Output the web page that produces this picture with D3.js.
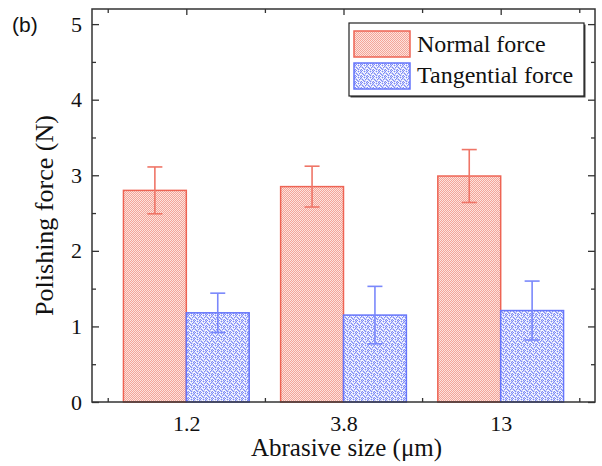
<!DOCTYPE html>
<html>
<head>
<meta charset="utf-8">
<script src="https://cdn.jsdelivr.net/npm/d3@7"></script>
<style>
  body { margin: 0; background: #fff; }
  svg { display: block; }
</style>
</head>
<body>
<script>
// chart data
const categories = ["1.2", "3.8", "13"];
const seriesNames = ["Normal force", "Tangential force"];
const normalForce = [2.80, 2.85, 2.99];
const normalErr = [0.31, 0.27, 0.35];
const tangentialForce = [1.18, 1.15, 1.21];
const tangentialErr = [0.26, 0.38, 0.39];
const yTicks = [0, 1, 2, 3, 4, 5];

let W = 602, H = 466;
let margin = { top: 9, right: 7, bottom: 64, left: 92 };
let width = W - margin.left - margin.right;
let height = H - margin.top - margin.bottom;
let serif = "'Liberation Serif', 'Times New Roman', serif";

let svg = d3.select("body").append("svg")
  .attr("width", W)
  .attr("height", H);

// fill patterns
let defs = svg.append("defs");
let pRed = defs.append("pattern").attr("id", "pRed")
  .attr("patternUnits", "userSpaceOnUse").attr("width", 2).attr("height", 2);
pRed.append("rect").attr("width", 2).attr("height", 2).attr("fill", "#fde2dd");
pRed.append("rect").attr("width", 1).attr("height", 1).attr("fill", "#f3a599");
pRed.append("rect").attr("x", 1).attr("y", 1).attr("width", 1).attr("height", 1).attr("fill", "#f3a599");

let pBlue = defs.append("pattern").attr("id", "pBlue")
  .attr("patternUnits", "userSpaceOnUse").attr("width", 6).attr("height", 6);
pBlue.append("rect").attr("width", 6).attr("height", 6).attr("fill", "#ccd1fb");
[[0,0],[3,0],[5,1],[1,2],[4,2],[2,3],[0,4],[3,4],[5,5],[1,5]].forEach(function (p) {
  pBlue.append("rect").attr("x", p[0]).attr("y", p[1]).attr("width", 1).attr("height", 1).attr("fill", "#7d8bf6");
});
[[1,0],[4,1],[2,1],[0,3],[5,3],[2,5],[4,5],[3,2],[1,4]].forEach(function (p) {
  pBlue.append("rect").attr("x", p[0]).attr("y", p[1]).attr("width", 1).attr("height", 1).attr("fill", "#ffffff");
});

let g = svg.append("g")
  .attr("transform", "translate(" + margin.left + "," + margin.top + ")");

let x = d3.scaleLinear().domain([0.4, 3.6]).range([0, width]);
let y = d3.scaleLinear().domain([0, 5.2]).range([height, 0]);
let bw = 0.4;

let series = [
  { vals: normalForce, err: normalErr, off: -bw, fill: "url(#pRed)", stroke: "#ee6454", errColor: "#ef7567" },
  { vals: tangentialForce, err: tangentialErr, off: 0, fill: "url(#pBlue)", stroke: "#6676fb", errColor: "#7a88fb" }
];

series.forEach(function (s) {
  g.selectAll(null).data(s.vals).enter().append("rect")
    .attr("x", function (d, i) { return x(i + 1 + s.off); })
    .attr("y", function (d) { return y(d); })
    .attr("width", x(bw) - x(0))
    .attr("height", function (d) { return y(0) - y(d); })
    .attr("fill", s.fill)
    .attr("stroke", s.stroke)
    .attr("stroke-width", 1.5);

  let eg = g.selectAll(null).data(s.vals).enter().append("g")
    .attr("stroke", s.errColor).attr("stroke-width", 1.6);
  eg.append("line")
    .attr("x1", function (d, i) { return x(i + 1 + s.off + bw / 2); })
    .attr("x2", function (d, i) { return x(i + 1 + s.off + bw / 2); })
    .attr("y1", function (d, i) { return y(d + s.err[i]); })
    .attr("y2", function (d, i) { return y(d - s.err[i]); });
  [1, -1].forEach(function (sign) {
    eg.append("line")
      .attr("x1", function (d, i) { return x(i + 1 + s.off + bw / 2) - 7.5; })
      .attr("x2", function (d, i) { return x(i + 1 + s.off + bw / 2) + 7.5; })
      .attr("y1", function (d, i) { return y(d + sign * s.err[i]); })
      .attr("y2", function (d, i) { return y(d + sign * s.err[i]); });
  });
});

// axes, ticks pointing inward
let axisColor = "#333";
let yMinor = d3.range(0.5, 5.2, 1);
let xMajor = [1, 2, 3];
let xMinor = [0.5, 1.5, 2.5, 3.5];

function styleAxis(sel) {
  sel.select(".domain").remove();
  sel.selectAll(".tick line").attr("stroke", axisColor).attr("stroke-width", 1.3);
  sel.selectAll("text").attr("font-size", 22).attr("font-family", serif).attr("fill", "#111");
}

g.append("g")
  .call(d3.axisLeft(y).tickValues(yTicks).tickSize(-7).tickPadding(10).tickFormat(d3.format("d")))
  .call(styleAxis);
g.append("g")
  .call(d3.axisLeft(y).tickValues(yMinor).tickSize(-4).tickFormat(""))
  .call(styleAxis);
g.append("g").attr("transform", "translate(" + width + ",0)")
  .call(d3.axisRight(y).tickValues(yTicks).tickSize(-7).tickFormat(""))
  .call(styleAxis);
g.append("g").attr("transform", "translate(" + width + ",0)")
  .call(d3.axisRight(y).tickValues(yMinor).tickSize(-4).tickFormat(""))
  .call(styleAxis);

g.append("g").attr("transform", "translate(0," + height + ")")
  .call(d3.axisBottom(x).tickValues(xMajor).tickSize(0).tickPadding(13)
    .tickFormat(function (d) { return categories[d - 1]; }))
  .call(styleAxis);
g.append("g").attr("transform", "translate(0," + height + ")")
  .call(d3.axisBottom(x).tickValues(xMinor).tickSize(-4).tickFormat(""))
  .call(styleAxis);
g.append("g")
  .call(d3.axisTop(x).tickValues(xMajor).tickSize(-6).tickFormat(""))
  .call(styleAxis);
g.append("g")
  .call(d3.axisTop(x).tickValues(xMinor).tickSize(-4).tickFormat(""))
  .call(styleAxis);

// frame
g.append("rect")
  .attr("width", width).attr("height", height)
  .attr("fill", "none").attr("stroke", axisColor).attr("stroke-width", 1.5);

// axis titles
g.append("text")
  .attr("x", width / 2 + 3).attr("y", height + 54)
  .attr("text-anchor", "middle").attr("font-size", 25)
  .attr("font-family", serif).attr("fill", "#111")
  .text("Abrasive size (μm)");
g.append("text")
  .attr("transform", "translate(-39," + (height / 2 + 10) + ") rotate(-90)")
  .attr("text-anchor", "middle").attr("font-size", 26)
  .attr("font-family", serif).attr("fill", "#111")
  .text("Polishing force (N)");

svg.append("text")
  .attr("x", 12).attr("y", 32)
  .attr("font-family", "'Liberation Sans', Arial, sans-serif").attr("font-size", 21)
  .attr("fill", "#111")
  .text("(b)");

// legend
let lg = svg.append("g").attr("transform", "translate(349,23)");
lg.append("rect").attr("x", 1.5).attr("y", 1.5).attr("width", 235).attr("height", 73)
  .attr("fill", "#444");
lg.append("rect").attr("width", 235).attr("height", 73)
  .attr("fill", "#fff").attr("stroke", "#222").attr("stroke-width", 1.2);
series.forEach(function (s, i) {
  lg.append("rect")
    .attr("x", 5).attr("y", 8 + i * 32)
    .attr("width", 56).attr("height", 26)
    .attr("fill", s.fill).attr("stroke", s.stroke).attr("stroke-width", 1.5);
  lg.append("text")
    .attr("x", 68).attr("y", 29 + i * 31)
    .attr("font-size", 24).attr("font-family", serif).attr("fill", "#111")
    .text(seriesNames[i]);
});
</script>
</body>
</html>
